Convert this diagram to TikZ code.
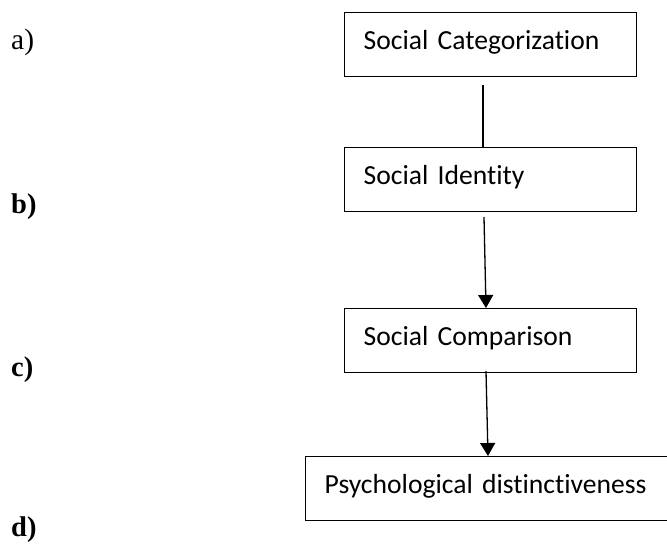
\documentclass[tikz,border=0pt]{standalone}
\usepackage{fontspec}
\setmainfont{Liberation Serif}
\newfontfamily\boxfont[Ligatures={NoCommon,NoContextual}]{Carlito}
\usetikzlibrary{positioning,arrows.meta,calc}
\definecolor{ink}{HTML}{000000}
\tikzset{
  stage/.style = {draw=ink, line width=1.4pt, anchor=north west, align=left,
                  minimum height=64pt, inner xsep=19pt, inner ysep=0pt,
                  text height=18pt, text depth=8pt,
                  font=\boxfont\fontsize{27.6}{31}\selectfont, text=ink},
  tag/.style   = {anchor=west, inner sep=0pt, text=ink,
                  font=\fontsize{29.5}{33}\selectfont},
  link/.style  = {draw=ink, line width=1.3pt},
  flow/.style  = {->, draw=ink, line width=1.3pt, >={Triangle[length=13pt,width=15pt]}},
}
\begin{document}
\begin{tikzpicture}[x=1pt,y=-1pt]
    \useasboundingbox (0,0) rectangle (667,546);
    \node[stage,text width=254pt] (cat) at (344,12) {Social Categorization};
    \node[stage,text width=254pt] (idn) at (344,147) {Social Identity};
    \node[stage,text width=254pt] (cmp) at (344,308) {Social Comparison};
    \node[stage,text width=328pt] (psy) at (305,456) {Psychological distinctiveness};
    \node[tag] (la) at (11,42) {a)};
    \node[tag,font=\fontsize{28.5}{32}\selectfont\bfseries] (lb) at (11,207) {b)};
    \node[tag,font=\fontsize{28.5}{32}\selectfont\bfseries] (lc) at (11,370) {c)};
    \node[tag,font=\fontsize{28.5}{32}\selectfont\bfseries] (ld) at (11,530) {d)};
    \coordinate (s1) at (483,85);
    \coordinate (s2) at (484,217);
    \coordinate (s3) at (486,371);
    \draw[link] (s1) -- ([xshift=139pt]idn.north west);
    \draw[flow] (s2) -- ([xshift=142pt]cmp.north west);
    \draw[flow] (s3) -- ([xshift=183pt]psy.north west);
\end{tikzpicture}
\end{document}
